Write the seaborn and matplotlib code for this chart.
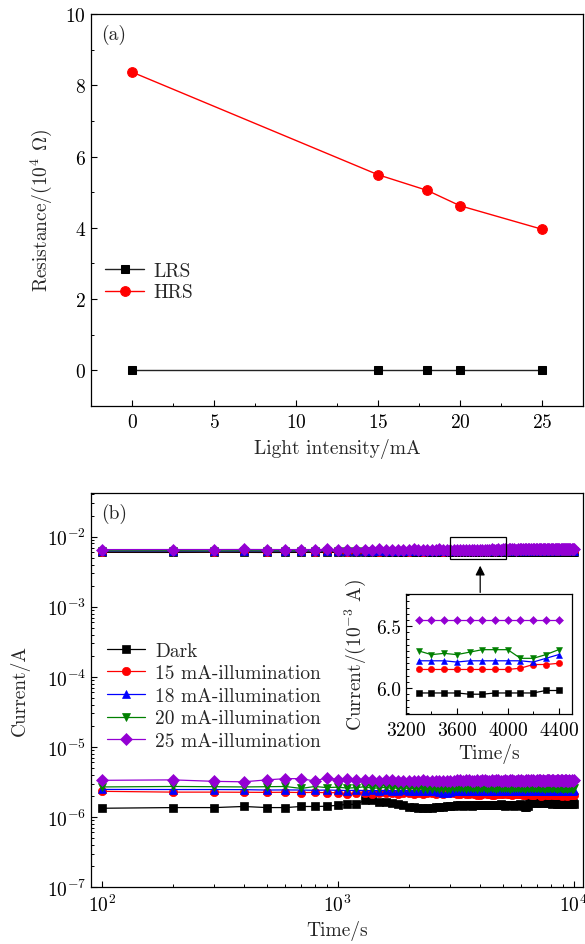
import numpy as np
import pandas as pd
import matplotlib
matplotlib.use("Agg")
import matplotlib.pyplot as plt
from matplotlib.ticker import MultipleLocator, LogLocator, NullFormatter
from matplotlib.patches import Rectangle
import seaborn as sns

# ---------------- (a) resistance vs light intensity ----------------
intensity_mA = [0, 15, 18, 20, 25]
lrs_1e4_ohm = [0.01, 0.01, 0.01, 0.01, 0.01]
hrs_1e4_ohm = [8.37, 5.49, 5.05, 4.62, 3.96]

# ---------------- (b) retention: current vs time ----------------
time_s = np.arange(100, 10001, 100)

# high-current state, in 1e-3 A
dark_high = [
    5.97, 5.96, 5.98, 5.97, 5.95, 5.96, 5.97, 5.96, 5.96, 5.97,
    5.96, 5.97, 5.96, 5.95, 5.96, 5.97, 5.96, 5.96, 5.95, 5.96,
    5.97, 5.96, 5.96, 5.95, 5.96, 5.96, 5.97, 5.96, 5.95, 5.96,
    5.96, 5.96, 5.96, 5.96, 5.96, 5.96, 5.95, 5.95, 5.96, 5.96,
    5.96, 5.96, 5.98, 5.98, 5.97, 5.98, 5.97, 5.96, 5.97, 5.98,
    5.98, 5.97, 5.97, 5.98, 5.99, 5.98, 5.97, 5.98, 5.98, 5.99,
    5.98, 5.97, 5.98, 5.99, 5.98, 5.98, 5.99, 6.00, 5.99, 5.98,
    5.99, 5.99, 6.00, 5.99, 5.98, 5.99, 6.00, 6.00, 5.99, 5.99,
    6.00, 6.01, 6.00, 5.99, 6.00, 6.00, 6.01, 6.00, 6.00, 6.01,
    6.01, 6.00, 6.01, 6.02, 6.01, 6.00, 6.01, 6.02, 6.01, 6.01,
]
ma15_high = [
    6.14, 6.15, 6.13, 6.15, 6.14, 6.16, 6.15, 6.14, 6.15, 6.15,
    6.14, 6.15, 6.16, 6.15, 6.14, 6.15, 6.15, 6.16, 6.15, 6.14,
    6.15, 6.15, 6.14, 6.15, 6.16, 6.15, 6.15, 6.14, 6.15, 6.15,
    6.16, 6.15, 6.15, 6.15, 6.15, 6.15, 6.15, 6.15, 6.15, 6.15,
    6.16, 6.19, 6.19, 6.20, 6.19, 6.20, 6.19, 6.20, 6.21, 6.20,
    6.19, 6.20, 6.21, 6.20, 6.19, 6.20, 6.21, 6.20, 6.20, 6.21,
    6.20, 6.21, 6.20, 6.19, 6.20, 6.21, 6.22, 6.21, 6.20, 6.21,
    6.21, 6.20, 6.21, 6.22, 6.21, 6.20, 6.21, 6.22, 6.21, 6.22,
    6.22, 6.21, 6.21, 6.22, 6.23, 6.22, 6.21, 6.22, 6.22, 6.23,
    6.22, 6.23, 6.22, 6.21, 6.22, 6.23, 6.22, 6.22, 6.23, 6.22,
]
ma18_high = [
    6.21, 6.22, 6.20, 6.22, 6.21, 6.23, 6.22, 6.21, 6.22, 6.22,
    6.21, 6.22, 6.23, 6.22, 6.21, 6.22, 6.22, 6.23, 6.22, 6.21,
    6.22, 6.22, 6.21, 6.22, 6.23, 6.22, 6.22, 6.21, 6.22, 6.22,
    6.23, 6.22, 6.22, 6.22, 6.22, 6.21, 6.22, 6.22, 6.22, 6.22,
    6.22, 6.21, 6.24, 6.27, 6.26, 6.25, 6.26, 6.27, 6.26, 6.25,
    6.26, 6.27, 6.26, 6.25, 6.26, 6.27, 6.28, 6.27, 6.26, 6.27,
    6.27, 6.26, 6.27, 6.28, 6.27, 6.26, 6.27, 6.28, 6.27, 6.28,
    6.28, 6.27, 6.26, 6.27, 6.28, 6.27, 6.28, 6.29, 6.28, 6.27,
    6.28, 6.29, 6.28, 6.27, 6.28, 6.29, 6.28, 6.28, 6.29, 6.28,
    6.29, 6.28, 6.29, 6.30, 6.29, 6.28, 6.29, 6.29, 6.30, 6.29,
]
ma20_high = [
    6.28, 6.30, 6.27, 6.29, 6.28, 6.30, 6.29, 6.27, 6.28, 6.29,
    6.30, 6.28, 6.27, 6.29, 6.30, 6.28, 6.29, 6.27, 6.28, 6.30,
    6.29, 6.28, 6.30, 6.27, 6.29, 6.28, 6.30, 6.29, 6.28, 6.29,
    6.28, 6.29, 6.30, 6.27, 6.28, 6.27, 6.29, 6.31, 6.31, 6.31,
    6.24, 6.24, 6.27, 6.31, 6.30, 6.29, 6.31, 6.30, 6.29, 6.30,
    6.31, 6.30, 6.29, 6.31, 6.32, 6.30, 6.31, 6.30, 6.29, 6.31,
    6.30, 6.31, 6.32, 6.30, 6.31, 6.29, 6.30, 6.31, 6.32, 6.31,
    6.31, 6.30, 6.31, 6.32, 6.31, 6.30, 6.32, 6.31, 6.30, 6.31,
    6.32, 6.31, 6.30, 6.31, 6.32, 6.33, 6.31, 6.32, 6.31, 6.30,
    6.31, 6.32, 6.33, 6.31, 6.32, 6.31, 6.32, 6.33, 6.32, 6.31,
]
ma25_high = [
    6.54, 6.55, 6.55, 6.56, 6.55, 6.54, 6.55, 6.55, 6.56, 6.55,
    6.55, 6.54, 6.55, 6.55, 6.56, 6.55, 6.55, 6.54, 6.55, 6.55,
    6.56, 6.55, 6.55, 6.54, 6.55, 6.55, 6.56, 6.55, 6.55, 6.55,
    6.54, 6.55, 6.55, 6.55, 6.55, 6.55, 6.55, 6.55, 6.55, 6.55,
    6.55, 6.55, 6.55, 6.55, 6.56, 6.55, 6.55, 6.56, 6.55, 6.56,
    6.56, 6.55, 6.56, 6.56, 6.57, 6.56, 6.55, 6.56, 6.56, 6.57,
    6.56, 6.56, 6.57, 6.56, 6.56, 6.57, 6.57, 6.56, 6.57, 6.57,
    6.57, 6.56, 6.57, 6.58, 6.57, 6.57, 6.56, 6.57, 6.58, 6.57,
    6.57, 6.58, 6.57, 6.57, 6.58, 6.58, 6.57, 6.58, 6.57, 6.58,
    6.58, 6.57, 6.58, 6.58, 6.59, 6.58, 6.57, 6.58, 6.58, 6.59,
]

# low-current state, in 1e-6 A
dark_low = [
    1.33, 1.36, 1.36, 1.41, 1.36, 1.36, 1.41, 1.41, 1.42, 1.47,
    1.51, 1.51, 1.73, 1.73, 1.66, 1.62, 1.56, 1.52, 1.47, 1.40,
    1.38, 1.36, 1.34, 1.33, 1.35, 1.38, 1.40, 1.40, 1.42, 1.44,
    1.45, 1.47, 1.46, 1.44, 1.48, 1.47, 1.45, 1.47, 1.49, 1.48,
    1.50, 1.47, 1.48, 1.50, 1.49, 1.46, 1.48, 1.50, 1.51, 1.47,
    1.45, 1.48, 1.50, 1.49, 1.46, 1.44, 1.47, 1.50, 1.52, 1.48,
    1.42, 1.38, 1.40, 1.45, 1.62, 1.70, 1.66, 1.60, 1.58, 1.62,
    1.65, 1.63, 1.60, 1.58, 1.62, 1.66, 1.64, 1.60, 1.56, 1.58,
    1.55, 1.57, 1.60, 1.56, 1.54, 1.58, 1.55, 1.53, 1.56, 1.58,
    1.55, 1.54, 1.57, 1.56, 1.53, 1.55, 1.57, 1.54, 1.56, 1.55,
]
ma15_low = [
    2.32, 2.26, 2.26, 2.25, 2.24, 2.25, 2.23, 2.24, 2.22, 2.22,
    2.10, 2.20, 2.18, 2.15, 2.19, 2.20, 2.18, 2.10, 2.16, 2.18,
    2.15, 2.17, 2.12, 2.16, 2.18, 2.15, 2.17, 2.14, 2.16, 2.18,
    2.16, 2.13, 2.15, 2.17, 2.12, 2.15, 2.16, 2.14, 2.08, 2.05,
    2.12, 2.16, 2.14, 2.10, 2.05, 2.08, 2.13, 2.15, 2.12, 2.14,
    2.16, 2.13, 2.15, 2.10, 2.06, 2.12, 2.14, 2.15, 2.13, 2.10,
    2.04, 2.08, 2.12, 2.15, 2.12, 2.08, 2.03, 2.06, 2.12, 2.14,
    2.10, 2.05, 2.02, 2.08, 2.12, 2.13, 2.08, 2.04, 2.07, 2.10,
    2.12, 2.08, 2.04, 2.06, 2.10, 2.12, 2.09, 2.05, 2.02, 2.06,
    2.10, 2.08, 2.04, 2.02, 2.06, 2.09, 2.05, 2.03, 2.06, 2.08,
]
ma18_low = [
    2.47, 2.46, 2.46, 2.45, 2.42, 2.43, 2.42, 2.40, 2.42, 2.40,
    2.38, 2.40, 2.38, 2.39, 2.37, 2.40, 2.38, 2.36, 2.39, 2.38,
    2.36, 2.38, 2.37, 2.35, 2.38, 2.36, 2.30, 2.18, 2.22, 2.30,
    2.36, 2.38, 2.37, 2.35, 2.38, 2.36, 2.37, 2.39, 2.36, 2.37,
    2.35, 2.38, 2.36, 2.37, 2.39, 2.36, 2.34, 2.37, 2.38, 2.36,
    2.37, 2.39, 2.36, 2.35, 2.38, 2.36, 2.37, 2.35, 2.38, 2.36,
    2.34, 2.36, 2.38, 2.35, 2.37, 2.36, 2.34, 2.36, 2.38, 2.35,
    2.37, 2.35, 2.33, 2.36, 2.38, 2.35, 2.36, 2.34, 2.37, 2.35,
    2.36, 2.34, 2.37, 2.35, 2.33, 2.36, 2.35, 2.37, 2.34, 2.36,
    2.35, 2.33, 2.36, 2.34, 2.37, 2.35, 2.33, 2.36, 2.38, 2.40,
]
ma20_low = [
    2.68, 2.72, 2.70, 2.68, 2.70, 2.72, 2.55, 2.72, 2.62, 2.66,
    2.58, 2.62, 2.70, 2.56, 2.60, 2.64, 2.55, 2.60, 2.58, 2.56,
    2.55, 2.58, 2.52, 2.50, 2.54, 2.57, 2.53, 2.50, 2.48, 2.52,
    2.55, 2.58, 2.60, 2.56, 2.54, 2.57, 2.59, 2.55, 2.53, 2.56,
    2.58, 2.55, 2.53, 2.56, 2.59, 2.57, 2.54, 2.56, 2.58, 2.55,
    2.57, 2.59, 2.56, 2.54, 2.57, 2.60, 2.58, 2.55, 2.57, 2.59,
    2.56, 2.54, 2.57, 2.59, 2.56, 2.58, 2.60, 2.57, 2.55, 2.58,
    2.60, 2.57, 2.55, 2.58, 2.56, 2.54, 2.57, 2.59, 2.56, 2.58,
    2.55, 2.57, 2.59, 2.56, 2.54, 2.57, 2.55, 2.58, 2.56, 2.53,
    2.56, 2.58, 2.55, 2.53, 2.56, 2.58, 2.55, 2.52, 2.54, 2.58,
]
ma25_low = [
    3.33, 3.38, 3.22, 3.17, 3.38, 3.52, 3.52, 3.25, 3.63, 3.40,
    3.45, 3.35, 3.40, 3.38, 3.30, 3.42, 3.36, 3.30, 3.25, 3.28,
    3.30, 3.26, 3.32, 3.28, 3.24, 3.30, 3.27, 3.25, 3.29, 3.31,
    3.28, 3.33, 3.35, 3.30, 3.32, 3.36, 3.31, 3.29, 3.34, 3.30,
    3.32, 3.35, 3.31, 3.28, 3.33, 3.30, 3.34, 3.36, 3.31, 3.29,
    3.33, 3.30, 3.28, 3.32, 3.35, 3.31, 3.29, 3.33, 3.30, 3.34,
    3.31, 3.28, 3.32, 3.35, 3.30, 3.33, 3.36, 3.31, 3.29, 3.32,
    3.35, 3.32, 3.30, 3.34, 3.31, 3.28, 3.33, 3.35, 3.32, 3.30,
    3.33, 3.36, 3.31, 3.29, 3.33, 3.35, 3.30, 3.32, 3.34, 3.31,
    3.29, 3.32, 3.35, 3.31, 3.28, 3.33, 3.30, 3.34, 3.31, 3.36,
]

series_labels = ["Dark", "15 mA-illumination", "18 mA-illumination",
                 "20 mA-illumination", "25 mA-illumination"]
series_colors = ["#000000", "#FF0000", "#0000FF", "#008000", "#9400D3"]
series_markers = ["s", "o", "^", "v", "D"]
high_sets = [dark_high, ma15_high, ma18_high, ma20_high, ma25_high]
low_sets = [dark_low, ma15_low, ma18_low, ma20_low, ma25_low]

# ---------------- style ----------------
sns.set_style("ticks")
FS = 14
plt.rcParams.update({
    "font.family": ["cmr10", "DejaVu Serif"],
    "mathtext.fontset": "cm",
    "axes.formatter.use_mathtext": True,
    "axes.unicode_minus": True,
    "font.size": FS,
    "axes.linewidth": 0.9,
    "axes.edgecolor": "#000000",
    "xtick.direction": "in",
    "ytick.direction": "in",
    "xtick.major.size": 4,
    "ytick.major.size": 4,
    "xtick.minor.size": 2.2,
    "ytick.minor.size": 2.2,
    "xtick.major.width": 0.8,
    "ytick.major.width": 0.8,
    "xtick.minor.width": 0.7,
    "ytick.minor.width": 0.7,
    "xtick.major.pad": 5,
    "xtick.color": "#000000",
    "ytick.color": "#000000",
    "xtick.labelsize": FS,
    "ytick.labelsize": FS,
    "axes.labelsize": FS,
    "legend.fontsize": FS,
})

fig = plt.figure(figsize=(5.85, 9.45), dpi=100)
W, H = 585.0, 945.0


def frac(x0, y0, x1, y1):
    return [x0 / W, 1 - y1 / H, (x1 - x0) / W, (y1 - y0) / H]


ax1 = fig.add_axes(frac(91, 15, 583, 407))
ax2 = fig.add_axes(frac(91, 494, 583, 888))
ax3 = fig.add_axes(frac(406, 595, 572, 715))

# ---------------- panel (a) ----------------
df_a = pd.DataFrame({"I": intensity_mA, "LRS": lrs_1e4_ohm, "HRS": hrs_1e4_ohm})
sns.lineplot(data=df_a, x="I", y="LRS", ax=ax1, color="#222222", linewidth=1.0,
             marker="s", markersize=5.5, markeredgecolor="#000000",
             markerfacecolor="#000000", label="LRS")
sns.lineplot(data=df_a, x="I", y="HRS", ax=ax1, color="#FF0000", linewidth=1.0,
             marker="o", markersize=7, markeredgecolor="#FF0000",
             markerfacecolor="#FF0000", label="HRS")
ax1.set_xlim(-2.5, 27.5)
ax1.set_ylim(-1, 10)
ax1.xaxis.set_major_locator(MultipleLocator(5))
ax1.xaxis.set_minor_locator(MultipleLocator(2.5))
ax1.yaxis.set_major_locator(MultipleLocator(2))
ax1.yaxis.set_minor_locator(MultipleLocator(1))
ax1.set_xlabel("Light intensity/mA", labelpad=5)
ax1.set_ylabel(r"Resistance/(10$^{4}$ $\Omega$)", labelpad=8)
ax1.legend(loc="upper left", bbox_to_anchor=(0.005, 0.397), frameon=False,
           handlelength=2.0, handletextpad=0.5, labelspacing=0.18,
           borderaxespad=0.4, borderpad=0.2)
ax1.text(0.02, 0.975, "(a)", transform=ax1.transAxes, ha="left", va="top")

# ---------------- panel (b) ----------------
for lab, col, mk, hi, lo in zip(series_labels, series_colors, series_markers,
                                high_sets, low_sets):
    ms = 6.5 if mk == "D" else 6
    kw = dict(color=col, linewidth=0.9, marker=mk, markersize=ms,
              markeredgecolor=col, markerfacecolor=col, markeredgewidth=0.5)
    sns.lineplot(x=time_s, y=np.array(hi) * 1e-3, ax=ax2, **kw)
    sns.lineplot(x=time_s, y=np.array(lo) * 1e-6, ax=ax2, label=lab, **kw)

ax2.set_xscale("log")
ax2.set_yscale("log")
ax2.set_xlim(90, 10960)
ax2.set_ylim(1e-7, 4.2e-2)
ax2.xaxis.set_minor_locator(LogLocator(base=10, subs=np.arange(2, 10)))
ax2.yaxis.set_minor_locator(LogLocator(base=10, subs=np.arange(2, 10)))
ax2.xaxis.set_minor_formatter(NullFormatter())
ax2.yaxis.set_minor_formatter(NullFormatter())
ax2.set_xlabel("Time/s", labelpad=3)
ax2.set_ylabel("Current/A", labelpad=12)
ax2.legend(loc="upper left", bbox_to_anchor=(0.008, 0.652), frameon=False,
           handlelength=2.0, handletextpad=0.5, labelspacing=0.24,
           borderaxespad=0.4, borderpad=0.2)
ax2.text(0.02, 0.975, "(b)", transform=ax2.transAxes, ha="left", va="top")

# zoom window and arrow pointing to the inset
ax2.add_patch(Rectangle((2980, 4.8e-3), 5160 - 2980, 9.8e-3 - 4.8e-3,
                        fill=False, edgecolor="#000000", linewidth=0.9, zorder=5))
ax2.annotate("", xy=(4018, 3.85e-3), xytext=(4018, 1.6e-3),
             arrowprops=dict(arrowstyle="-|>", color="#000000", lw=0.9,
                             mutation_scale=14, shrinkA=0, shrinkB=0))

# ---------------- inset ----------------
win = (time_s >= 3300) & (time_s <= 4400)
for lab, col, mk, hi in zip(series_labels, series_colors, series_markers, high_sets):
    sns.lineplot(x=time_s[win], y=np.array(hi)[win], ax=ax3, color=col,
                 linewidth=0.9, marker=mk, markersize=4.5, markeredgecolor=col,
                 markerfacecolor=col, markeredgewidth=0.4)
ax3.set_xlim(3200, 4505)
ax3.set_ylim(5.79, 6.76)
ax3.xaxis.set_major_locator(MultipleLocator(400))
ax3.xaxis.set_minor_locator(MultipleLocator(200))
ax3.yaxis.set_major_locator(MultipleLocator(0.5))
ax3.yaxis.set_minor_locator(MultipleLocator(0.05))
ax3.yaxis.set_major_formatter(plt.FormatStrFormatter("%.1f"))
ax3.set_xlabel("Time/s", labelpad=3)
ax3.set_ylabel(r"Current/(10$^{-3}$ A)", labelpad=6)
ax3.set_facecolor("white")

for ax in (ax1, ax2, ax3):
    ax.tick_params(which="both", top=False, right=False)
    for sp in ax.spines.values():
        sp.set_visible(True)

fig.savefig("out.png", dpi=100)
